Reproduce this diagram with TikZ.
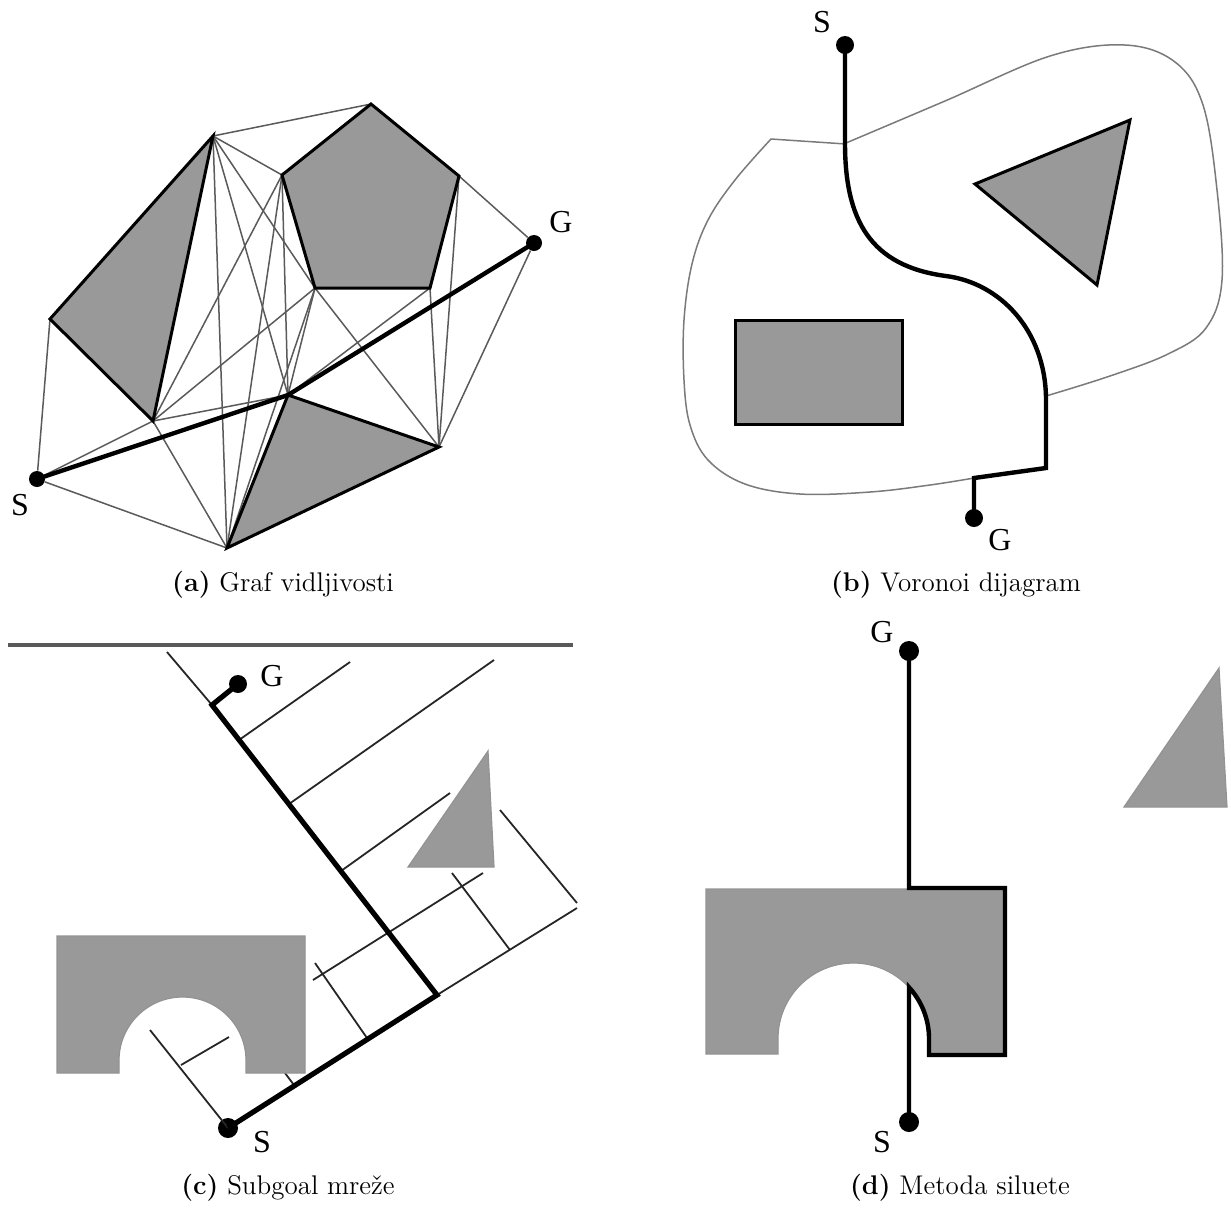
\documentclass[tikz,border=0pt]{standalone}
\usepackage{fontspec}
\newfontfamily\labfont{Liberation Serif}
\definecolor{obst}{HTML}{999999}
\definecolor{visl}{HTML}{5A5A5A}
\definecolor{bndl}{HTML}{7A7A7A}
\begin{document}
\begin{tikzpicture}[x=0.5pt,y=-0.5pt,
  vis/.style={draw=visl,line width=0.75pt},
  obs/.style={fill=obst,draw=black,line width=1.5pt,line join=miter},
  softobs/.style={fill=obst,draw=gray!85,line width=0.6pt},
  route/.style={draw=black,line width=2.2pt,line join=round},
  dot/.style={circle,fill=black,inner sep=0pt,minimum size=#1},
  dot/.default=8pt,
  lab/.style={font=\labfont\fontsize{16}{16}\selectfont,inner sep=0pt},
  capt/.style={font=\fontsize{13.5}{16}\selectfont,anchor=base,inner sep=0pt},
  bnd/.style={draw=bndl,line width=0.75pt,line join=round},
  sgl/.style={draw=black!85,line width=0.9pt},
  wall/.style={draw=black!65,line width=1.6pt},
]
\useasboundingbox (0,0) rectangle (1231,1207);

% ---------------- (a) visibility graph ----------------
\coordinate (aL) at (50,319);
\coordinate (aT) at (213,136);
\coordinate (aLB) at (153,421);
\coordinate (aPT) at (371,104);
\coordinate (aPR) at (459,176);
\coordinate (aPBR) at (430,288);
\coordinate (aPBL) at (315,288);
\coordinate (aPL) at (282,175);
\coordinate (aBT) at (288,395);
\coordinate (aBR) at (439,447);
\coordinate (aBB) at (227,548);
\node[dot] (aS) at (37,479) {};
\node[dot] (aG) at (534,243) {};
\foreach \p/\q in {aS/aL,aS/aBB,aS/aLB,aT/aPT,aPR/aG,aG/aBR,aT/aPL,aT/aBB,aT/aBT,aT/aPBL,
  aLB/aPL,aLB/aPBL,aLB/aBT,aLB/aBB,aPL/aBB,aPL/aBT,aPBL/aBB,aPBL/aBT,aPBL/aBR,
  aPBR/aBR,aPR/aBR,aPBR/aBT}
  \draw[vis] (\p) -- (\q);
\draw[obs] (aL) -- (aT) -- (aLB) -- cycle;
\draw[obs] (aPT) -- (aPR) -- (aPBR) -- (aPBL) -- (aPL) -- cycle;
\draw[obs] (aBT) -- (aBR) -- (aBB) -- cycle;
\draw[route] (aS.center) -- (aBT) -- (aG.center);
\node[lab] (aSl) at (20,505) {S};
\node[lab] (aGl) at (561,222) {G};
\node[capt] (capa) at (283,591) {\textbf{(a)} Graf vidljivosti};

% ---------------- (b) Voronoi ----------------
\draw[obs] (735,320) rectangle (902,424);
\draw[obs] (975,184) -- (1130,120) -- (1097,285) -- cycle;
\draw[bnd] (846,144) -- (771,139) -- plot[smooth,tension=0.6] coordinates {(771,139) (735,180) (708,220) (692,264) (684,320) (684,380) (690,425) (708,460) (745,484) (800,494) (870,492) (930,485) (974,478)};
\draw[bnd] plot[smooth,tension=0.6] coordinates {(846,143) (945,101) (1050,56) (1125,45) (1175,62) (1203,105) (1217,190) (1222,280) (1206,328) (1168,354) (1110,376) (1046,396)};
\node[dot=9pt] (bS) at (845,45) {};
\node[dot=9pt] (bG) at (974,518) {};
\coordinate (b1) at (845,143);
\coordinate (b2) at (946,276);
\coordinate (b3) at (1046,398);
\coordinate (b4) at (1046,468);
\coordinate (b5) at (974,478);
\draw[route,line join=miter] (bS.center) -- (b1) .. controls (845,220) and (870,266) .. (b2)
  .. controls (1000,283) and (1045,330) .. (b3) -- (b4) -- (b5) -- (bG.center);
\node[lab] (bSl) at (822,22) {S};
\node[lab] (bGl) at (1000,540) {G};
\node[capt] (capb) at (956,591) {\textbf{(b)} Voronoi dijagram};

% ---------------- (c) subgoal network ----------------
\draw[wall] (8,645) -- (573,645);
\coordinate (cC1) at (212,705);
\coordinate (cC2) at (437,995);
\node[dot=9pt] (cG) at (238,684) {};
\node[dot=10pt] (cS) at (228,1128) {};
\coordinate (c0) at (167,652);
\coordinate (c1a) at (239,740);  \coordinate (c1b) at (350,662);
\coordinate (c2a) at (289,804);  \coordinate (c2b) at (494,660);
\coordinate (c3a) at (341,871);  \coordinate (c3b) at (450,793);
\coordinate (c4a) at (313,980);  \coordinate (c4b) at (483,873);
\coordinate (c5b) at (577,908);
\coordinate (c6a) at (181,1065); \coordinate (c6b) at (229,1037);
\coordinate (cAa) at (500,810);  \coordinate (cAb) at (577,903);
\coordinate (cBa) at (452,873);  \coordinate (cBb) at (510,950);
\coordinate (cCa) at (315,963);  \coordinate (cCb) at (367,1038);
\coordinate (cDa) at (150,1030);
\coordinate (cEa) at (285,1073); \coordinate (cEb) at (294,1085);
\draw[sgl] (c0) -- (cC1);
\draw[sgl] (c1a) -- (c1b);
\draw[sgl] (c2a) -- (c2b);
\draw[sgl] (c3a) -- (c3b);
\draw[sgl] (c4a) -- (c4b);
\draw[sgl] (cC2) -- (c5b);
\draw[sgl] (c6a) -- (c6b);
\draw[sgl] (cAa) -- (cAb);
\draw[sgl] (cBa) -- (cBb);
\draw[sgl] (cCa) -- (cCb);
\draw[sgl] (cDa) -- (cS.center);
\draw[sgl] (cEa) -- (cEb);
\draw[softobs] (57,936) -- (305,936) -- (305,1073) -- (246,1073) -- (246,1060.5)
  arc[start angle=0,end angle=180,radius=31.75pt] -- (119,1073) -- (57,1073) -- cycle;
\draw[softobs] (488,751) -- (494,867) -- (408,867) -- cycle;
\draw[route,line width=2.6pt,line join=miter] (cG.center) -- (cC1) -- (cC2) -- (cS.center);
\node[lab] (cGl) at (272,676) {G};
\node[lab] (cSl) at (262,1142) {S};
\node[capt] (capc) at (288,1194) {\textbf{(c)} Subgoal mreže};

% ---------------- (d) silhouette ----------------
\draw[softobs] (706,889) -- (1005,889) -- (1005,1054) -- (929,1054) -- (929,1038.5)
  arc[start angle=0,end angle=180,radius=37.75pt] -- (778,1054) -- (706,1054) -- cycle;
\draw[softobs] (1219,668) -- (1227,807) -- (1124,807) -- cycle;
\node[dot=10pt] (dG) at (909,651) {};
\node[dot=10pt] (dS) at (909,1122) {};
\coordinate (d1) at (909,888);
\coordinate (d2) at (1005,888);
\coordinate (d3) at (1005,1055);
\coordinate (d4) at (929,1055);
\coordinate (d5) at (929,1038.5);
\draw[route,line join=miter] (dG.center) -- (d1) -- (d2) -- (d3) -- (d4) -- (d5)
  arc[start angle=0,end angle=42.7,radius=37.75pt] -- (dS.center);
\node[lab] (dGl) at (882,632) {G};
\node[lab] (dSl) at (882,1142) {S};
\node[capt] (capd) at (960,1194) {\textbf{(d)} Metoda siluete};
\end{tikzpicture}
\end{document}
